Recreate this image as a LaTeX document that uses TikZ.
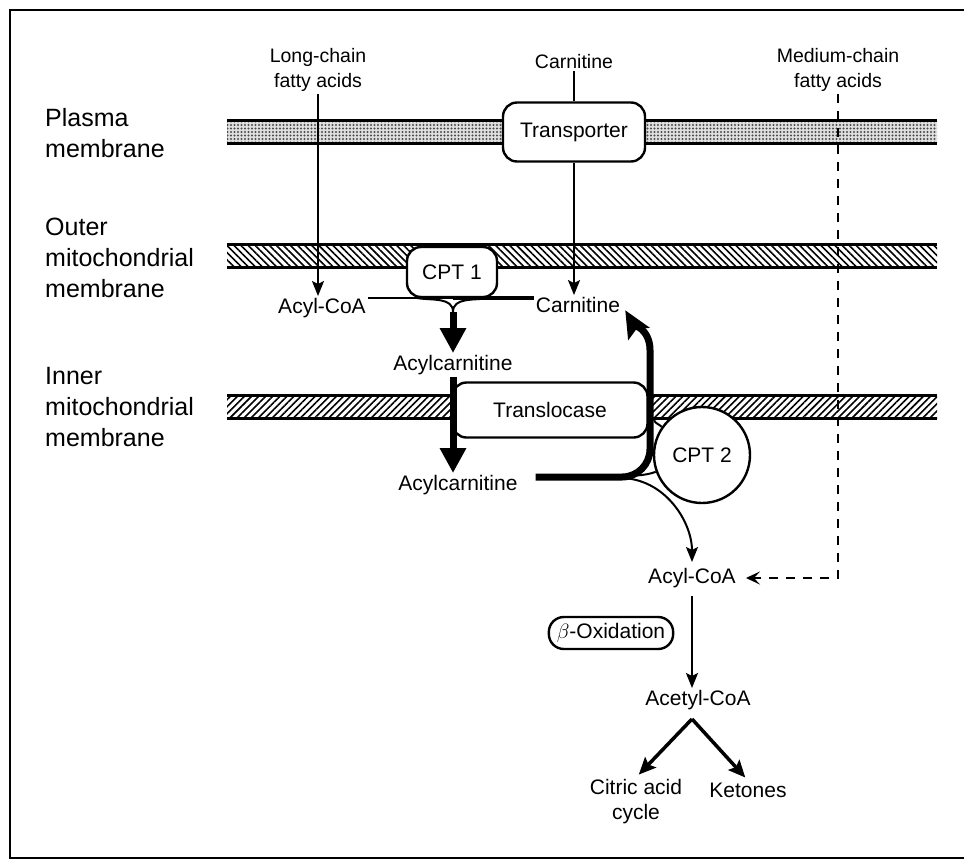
\documentclass[tikz,border=0pt]{standalone}
\usepackage{fontspec}
\setmainfont{Liberation Sans}
\usetikzlibrary{arrows.meta,positioning,patterns.meta}

\begin{document}
\begin{tikzpicture}[
    x=1pt, y=1pt,
    txt/.style={inner sep=2pt, align=center, font=\fontsize{21}{25}\selectfont},
    toplbl/.style={txt, font=\fontsize{19.5}{25}\selectfont},
    side/.style={anchor=west, align=left, inner sep=0pt, font=\fontsize{25}{31}\selectfont},
    enzyme/.style={txt, draw, line width=2.4pt, rounded corners=14pt, fill=white},
    rim/.style={line width=3pt},
    plain/.style={line width=2pt},
    thinarr/.style={line width=2pt, -{Stealth[length=15pt,width=12pt,inset=3pt]}},
    heavyarr/.style={line width=7pt, -{Triangle[length=25pt,width=25pt]}},
    heavyret/.style={line width=7pt, -{Stealth[length=27pt,width=24pt,inset=5pt]}, shorten >=6pt},
    dasharr/.style={line width=2pt, dash pattern=on 9pt off 8pt, -{Stealth[length=14pt,width=13pt,inset=6pt]}, shorten >=8pt},
    brancharr/.style={line width=3.5pt, -{Stealth[length=17pt,width=15pt,inset=3pt]}, shorten >=4pt}
  ]
    \useasboundingbox (0,0) rectangle (964,-860);
    \draw[line width=2pt] (964,-10) -- (10,-10) -- (10,-858) -- (964,-858);

    % membranes
    \fill[black!12] (227,-120) rectangle (937,-143);
    \fill[pattern={Dots[distance=3.5pt,radius=1.2pt]}, pattern color=black!70] (227,-120) rectangle (937,-143);
    \draw[rim] (227,-120) -- (937,-120) (227,-143) -- (937,-143);
    \fill[pattern={Lines[angle=-45,distance=5pt,line width=1.6pt]}] (227,-244) rectangle (937,-267);
    \draw[rim] (227,-244) -- (937,-244) (227,-267) -- (937,-267);
    \fill[pattern={Lines[angle=45,distance=5pt,line width=1.6pt]}] (227,-395) rectangle (937,-418);
    \draw[rim] (227,-395) -- (937,-395) (227,-418) -- (937,-418);

    \node[side] (plasmaLbl) at (45,-133) {Plasma\\membrane};
    \node[side] (outerLbl) at (45,-258) {Outer\\mitochondrial\\membrane};
    \node[side] (innerLbl) at (45,-407) {Inner\\mitochondrial\\membrane};

    \node[toplbl] (lcfa) at (318,-70) {Long-chain\\fatty acids};
    \node[toplbl] (carnTop) at (574,-62) {Carnitine};
    \node[toplbl] (mcfa) at (838,-70) {Medium-chain\\fatty acids};

    \node[txt] (acylcoaOut) at (322,-308) {Acyl-CoA};
    \node[txt] (carnOut) at (578,-305) {Carnitine};
    \node[txt] (acylcarnOut) at (453,-365) {Acylcarnitine};
    \node[txt] (acylcarnIn) at (458,-485) {Acylcarnitine};
    \node[txt] (acylcoaIn) at (692,-578) {Acyl-CoA};
    \node[txt] (acetyl) at (698,-700) {Acetyl-CoA};
    \node[txt] (citric) at (636,-802) {Citric acid\\cycle};
    \node[txt] (ketones) at (748,-790) {Ketones};

    % thick return path to carnitine, under CPT 2
    \draw[heavyret] ([shift={(16pt,8pt)}]acylcarnIn.east) -- (622,-477)
      to[out=0,in=-90] (650,-449) -- (650,-350) to[out=90,in=-60] (carnOut.east);

    \node[enzyme, minimum width=142pt, minimum height=59pt] (transporter) at (574,-132) {Transporter};
    \node[enzyme, minimum width=90pt, minimum height=50pt] (cpt1) at (452,-272) {CPT 1};
    \node[enzyme, minimum width=195pt, minimum height=55pt] (transloc) at (550,-410) {Translocase};
    \node[txt, draw, circle, line width=2.4pt, fill=white, minimum size=96pt] (cpt2) at (702,-455) {CPT 2};
    \node[enzyme, rounded corners=15pt, inner xsep=8pt, inner ysep=3pt, minimum height=32pt] (betaox) at (611,-633) {$\beta$-Oxidation};

    \coordinate (cpt1in) at (453,-298);
    \coordinate (cpt1out) at (453,-312);
    \coordinate (cpt2in) at (620,-478);
    \coordinate (split) at (692,-719);

    \draw[thinarr] (lcfa.south) -- (lcfa.south |- acylcoaOut.north);
    \draw[plain] (carnTop.south) -- (transporter.north);
    \draw[thinarr] (transporter.south) -- (transporter.south |- carnOut.north);

    % CPT 1 reaction
    \draw[plain] ([yshift=10pt]acylcoaOut.east) -- (cpt1in);
    \draw[line width=3.5pt] (cpt1in) -- ([yshift=7pt]carnOut.west);
    \draw[plain] (417,-298) to[out=-10,in=90] (cpt1out) to[out=90,in=-170] (489,-298);
    \draw[heavyarr] (cpt1out) -- (acylcarnOut.north);
    \draw[heavyarr] (acylcarnOut.south) -- (acylcarnOut.south |- acylcarnIn.north);

    % CPT 2 reaction
    \draw[plain] (cpt2in) to[out=15,in=200] (cpt2.200);
    \draw[plain] (654,-420) to[out=-70,in=135] (cpt2.145);
    \draw[thinarr, shorten >=4pt] (cpt2in) to[out=0,in=90] (acylcoaIn.north);

    \draw[dasharr] (mcfa.south) -- (mcfa.south |- acylcoaIn.east) -- (acylcoaIn.east);
    \draw[thinarr, shorten <=6pt] (acylcoaIn.south) -- (acylcoaIn.south |- acetyl.north);
    \draw[brancharr] (split) -- (citric.north);
    \draw[brancharr] (split) -- (ketones.north);
  \end{tikzpicture}
\end{document}
